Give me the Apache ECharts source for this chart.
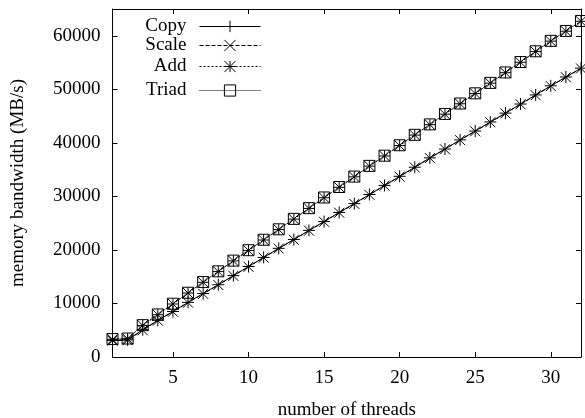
<!DOCTYPE html>
<html>
<head>
<meta charset="utf-8">
<script src="https://cdn.jsdelivr.net/npm/echarts@6/dist/echarts.min.js"></script>
<style>
  html, body { margin: 0; padding: 0; background: #fff; }
  #chart { width: 585px; height: 418px; }
</style>
</head>
<body>
<div id="chart"></div>
<script>
// STREAM 带宽 vs 线程数
const threads = [1, 2, 3, 4, 5, 6, 7, 8, 9, 10, 11, 12, 13, 14, 15, 16,
  17, 18, 19, 20, 21, 22, 23, 24, 25, 26, 27, 28, 29, 30, 31, 32];
const copyData = [3100, 3200, 5100, 6850, 8500, 10200, 11850, 13500, 15200, 16900, 18600, 20300,
  21950, 23650, 25300, 27000, 28650, 30350, 32050, 33750, 35450, 37200, 38850, 40550,
  42200, 43900, 45550, 47250, 48950, 50650, 52300, 53950];
const scaleData = [3050, 3150, 5000, 6800, 8450, 10150, 11800, 13450, 15150, 16850, 18550, 20250,
  21900, 23600, 25250, 26950, 28600, 30300, 32000, 33700, 35400, 37150, 38800, 40500,
  42150, 43850, 45500, 47200, 48900, 50600, 52250, 53900];
const addData = [3300, 3400, 5900, 7900, 9900, 11950, 13950, 15950, 17950, 19900, 21850, 23800,
  25750, 27750, 29750, 31700, 33650, 35650, 37550, 39500, 41450, 43400, 45350, 47300,
  49200, 51150, 53100, 55050, 57050, 59000, 60850, 62700];
const triadData = [3350, 3450, 5950, 7950, 9950, 12000, 14000, 16000, 18000, 19950, 21900, 23850,
  25800, 27800, 29800, 31750, 33700, 35700, 37600, 39550, 41500, 43450, 45400, 47350,
  49250, 51200, 53150, 55100, 57100, 59050, 60900, 62750];
const seriesNames = ['Copy', 'Scale', 'Add', 'Triad'];
const xTicks = [5, 10, 15, 20, 25, 30];
const yTicks = [0, 10000, 20000, 30000, 40000, 50000, 60000];

const FONT = 'Liberation Serif';
const chart = echarts.init(document.getElementById('chart'));

// gnuplot 风格的点型
const SYM = {
  plus: 'path://M0,5L10,5M5,0L5,10',
  cross: 'path://M0,0L10,10M10,0L0,10',
  star: 'path://M0,5L10,5M5,0L5,10M0,0L10,10M10,0L0,10',
  box: 'path://M0,0L10,0L10,10L0,10Z'
};

const pairs = (vals) => threads.map((t, i) => [t, vals[i]]);

const makeSeries = (name, vals, symbol, size, dash) => ({
  name: name,
  type: 'line',
  data: pairs(vals),
  symbol: symbol,
  symbolSize: size,
  showAllSymbol: true,
  lineStyle: { color: '#000', width: 1, type: dash },
  itemStyle: { color: 'rgba(0,0,0,0)', borderColor: '#000', borderWidth: 1 },
  emphasis: { disabled: true }
});

const axisCommon = {
  type: 'value',
  axisLine: { show: true, onZero: false, lineStyle: { color: '#000', width: 1 } },
  splitLine: { show: false }
};

const labelStyle = { color: '#000', fontFamily: FONT, fontSize: 19 };

// 四个图例，每个单独定位，文字在左、线在右
const legendTops = [12, 31, 52, 76];
const legends = seriesNames.map((n, i) => ({
  data: [n],
  right: 319,
  top: legendTops[i],
  align: 'right',
  itemWidth: 61,
  itemHeight: 14,
  selectedMode: false,
  lineStyle: { width: 1 },
  itemStyle: { borderWidth: 1 },
  textStyle: { color: '#000', fontFamily: FONT, fontSize: 19, padding: [0, 8, 0, 0] }
}));

const option = {
  animation: false,
  backgroundColor: '#fff',
  grid: { left: 112.5, right: 4, top: 9, bottom: 61, containLabel: false, outerBoundsMode: 'none' },
  legend: legends,
  xAxis: [
    Object.assign({}, axisCommon, {
      min: 1, max: 32, position: 'bottom',
      axisTick: { show: true, inside: true, length: 5, customValues: xTicks, lineStyle: { color: '#000' } },
      axisLabel: Object.assign({ customValues: xTicks, margin: 12 }, labelStyle),
      name: 'number of threads',
      nameLocation: 'middle',
      nameGap: 44,
      nameTextStyle: labelStyle
    }),
    Object.assign({}, axisCommon, {
      min: 1, max: 32, position: 'top',
      axisTick: { show: true, inside: true, length: 5, customValues: xTicks, lineStyle: { color: '#000' } },
      axisLabel: { show: false }
    })
  ],
  yAxis: [
    Object.assign({}, axisCommon, {
      min: 0, max: 65000, position: 'left',
      axisTick: { show: true, inside: true, length: 5, customValues: yTicks, lineStyle: { color: '#000' } },
      axisLabel: Object.assign({ customValues: yTicks, margin: 12, formatter: (v) => String(v) }, labelStyle),
      name: 'memory bandwidth (MB/s)',
      nameLocation: 'middle',
      nameGap: 85,
      nameTextStyle: labelStyle
    }),
    Object.assign({}, axisCommon, {
      min: 0, max: 65000, position: 'right',
      axisTick: { show: true, inside: true, length: 5, customValues: yTicks, lineStyle: { color: '#000' } },
      axisLabel: { show: false }
    })
  ],
  series: [
    makeSeries('Copy', copyData, SYM.plus, 12, 'solid'),
    makeSeries('Scale', scaleData, SYM.cross, 10, [4, 2]),
    makeSeries('Add', addData, SYM.star, 11, [2, 2]),
    makeSeries('Triad', triadData, SYM.box, 11, [1, 1])
  ]
};

chart.setOption(option);
</script>
</body>
</html>
